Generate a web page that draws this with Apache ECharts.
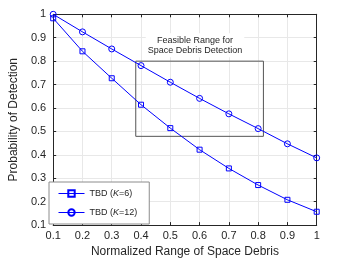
<!DOCTYPE html>
<html><head><meta charset="utf-8">
<script src="https://cdn.jsdelivr.net/npm/echarts@6/dist/echarts.min.js"></script>
<style>html,body{margin:0;padding:0;background:#fff}#c{width:350px;height:263px}</style>
</head><body><div id="c"></div>
<script>
var xValues = [0.1, 0.2, 0.3, 0.4, 0.5, 0.6, 0.7, 0.8, 0.9, 1.0];
var k6 = [0.983, 0.842, 0.727, 0.614, 0.514, 0.422, 0.342, 0.271, 0.208, 0.157];
var k12 = [1.0, 0.925, 0.852, 0.781, 0.71, 0.641, 0.575, 0.512, 0.447, 0.387];
var rangeBox = [[0.382, 0.8], [0.818, 0.479]];
var seriesNames = ['TBD ({i|K}=6)', 'TBD ({i|K}=12)'];
var boxText = ['Feasible Range for', 'Space Debris Detection'];

var font = 'Liberation Sans, Arial, sans-serif';
var axisColor = '#262626';
function pairs(ys){ return xValues.map(function(x,i){ return [x, ys[i]]; }); }

var chart = echarts.init(document.getElementById('c'));
var tickStyle = {inside: true, length: 3, lineStyle: {color: axisColor}};
var markerStyle = {color: 'rgba(0,0,0,0)', borderColor: '#0000ff', borderWidth: 1};
chart.setOption({
  animation: false,
  grid: {left: 45.3, right: 33.3, top: 14.3, bottom: 36.3},
  xAxis: [{
    type: 'value', min: 0.1, max: 1, interval: 0.1,
    name: 'Normalized Range of Space Debris', nameLocation: 'middle', nameGap: 18,
    nameTextStyle: {fontFamily: font, fontSize: 12, color: axisColor},
    axisLine: {lineStyle: {color: axisColor}},
    axisTick: tickStyle,
    axisLabel: {fontFamily: font, fontSize: 11, color: axisColor, margin: 5,
      formatter: function(v){ return +v.toFixed(1) + ''; }},
    splitLine: {show: true, lineStyle: {color: '#e8e8e8'}}
  }, {
    type: 'value', position: 'top', min: 0.1, max: 1, interval: 0.1,
    axisLine: {show: true, lineStyle: {color: axisColor}},
    axisTick: tickStyle, axisLabel: {show: false}, splitLine: {show: false}
  }],
  yAxis: [{
    type: 'value', min: 0.1, max: 1, interval: 0.1,
    name: 'Probability of Detection', nameLocation: 'middle', nameGap: 21,
    nameTextStyle: {fontFamily: font, fontSize: 12, color: axisColor},
    axisLine: {show: true, lineStyle: {color: axisColor}},
    axisTick: tickStyle,
    axisLabel: {fontFamily: font, fontSize: 11, color: axisColor, margin: 7,
      formatter: function(v){ return +v.toFixed(1) + ''; }},
    splitLine: {show: true, lineStyle: {color: '#e8e8e8'}}
  }, {
    type: 'value', position: 'right', min: 0.1, max: 1, interval: 0.1,
    axisLine: {show: true, lineStyle: {color: axisColor}},
    axisTick: tickStyle, axisLabel: {show: false}, splitLine: {show: false}
  }],
  legend: {
    left: 49, top: 182, orient: 'vertical', itemGap: 10,
    padding: [7, 12, 7, 9],
    borderColor: '#8c8c8c', borderWidth: 1, backgroundColor: '#fff',
    itemWidth: 26, itemHeight: 8,
    lineStyle: {width: 1},
    textStyle: {fontFamily: font, fontSize: 9, color: axisColor,
      rich: {i: {fontStyle: 'italic', fontFamily: font, fontSize: 9, color: axisColor}}},
    data: seriesNames
  },
  series: [{
    name: seriesNames[0], type: 'line', data: pairs(k6),
    symbol: 'rect', symbolSize: 5,
    lineStyle: {color: '#0000ff', width: 1},
    itemStyle: markerStyle
  }, {
    name: seriesNames[1], type: 'line', data: pairs(k12),
    symbol: 'circle', symbolSize: 6,
    lineStyle: {color: '#0000ff', width: 1},
    itemStyle: markerStyle,
    markArea: {
      silent: true,
      itemStyle: {color: 'rgba(0,0,0,0)', borderColor: '#555', borderWidth: 1},
      label: {show: false},
      data: [[{coord: rangeBox[0]}, {coord: rangeBox[1]}]]
    }
  }],
  graphic: [{
    type: 'text', x: 195, y: 45.3, z: 100,
    style: {text: boxText.join('\n'), fontFamily: font, fontSize: 9, lineHeight: 10,
      fill: axisColor, align: 'center', verticalAlign: 'middle',
      backgroundColor: '#fff', padding: [2, 2, 2, 2]}
  }]
});
</script></body></html>
